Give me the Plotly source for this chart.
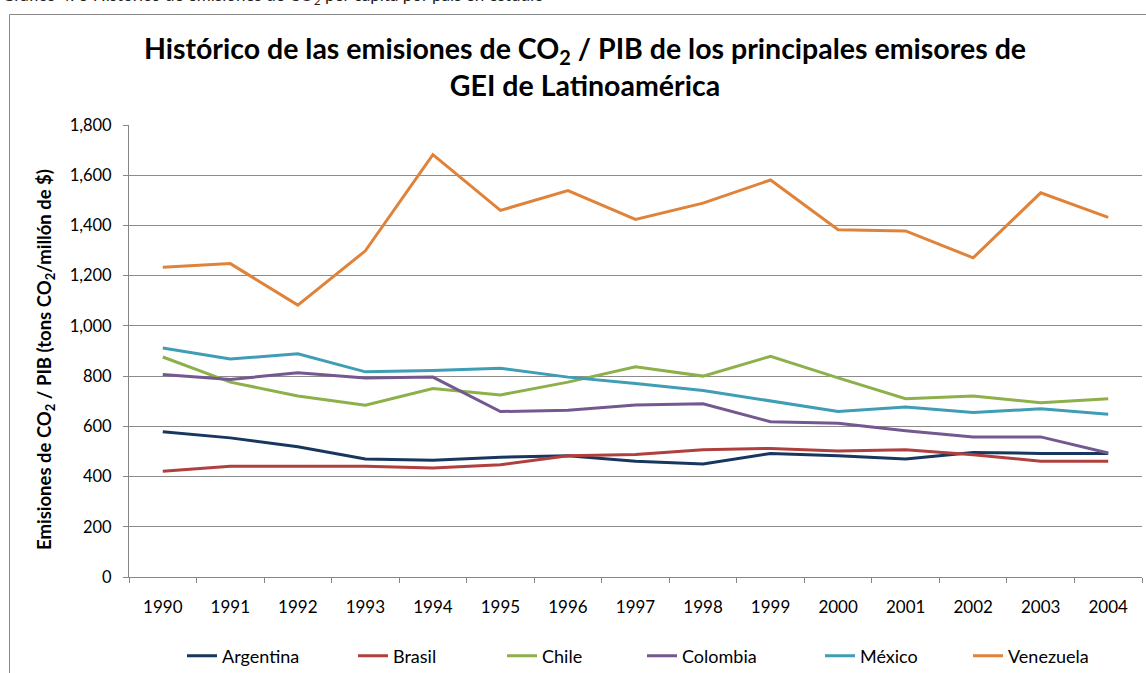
import plotly.graph_objects as go

years = [str(y) for y in range(1990, 2005)]

argentina = [578, 554, 519, 470, 465, 477, 483, 461, 450, 492, 483, 470, 496, 492, 492]
brasil = [421, 441, 441, 441, 434, 447, 483, 488, 507, 512, 502, 507, 487, 461, 461]
chile = [876, 776, 721, 684, 751, 725, 776, 837, 800, 879, 793, 710, 721, 694, 710]
colombia = [806, 787, 813, 792, 796, 659, 664, 685, 690, 618, 612, 582, 558, 558, 494]
mexico = [912, 868, 889, 817, 822, 831, 796, 771, 743, 701, 659, 677, 655, 670, 648]
venezuela = [1234, 1248, 1083, 1299, 1682, 1460, 1539, 1424, 1489, 1581, 1383, 1378, 1271, 1530, 1432]

series = [
    ("Argentina", argentina, "#17375E"),
    ("Brasil", brasil, "#B0403D"),
    ("Chile", chile, "#8DB04B"),
    ("Colombia", colombia, "#73598F"),
    ("México", mexico, "#3F9DB5"),
    ("Venezuela", venezuela, "#E0833A"),
]

# pixel geometry of the plot area (1146x673 page)
L, R, T, B = 129, 4, 125, 96
W = 1146 - L - R
H = 673 - T - B

def px_x(p):
    return (p - L) / W

def px_y(p):
    return (673 - B - p) / H

legend_starts = [186, 357, 506, 646, 824, 972]

fig = go.Figure()
for i, (name, vals, color) in enumerate(series):
    key = "legend" if i == 0 else f"legend{i + 1}"
    fig.add_trace(go.Scatter(
        x=years, y=vals, mode="lines", name=name,
        line=dict(color=color, width=3),
        legend=key,
    ))

legends = {}
for i, start in enumerate(legend_starts):
    key = "legend" if i == 0 else f"legend{i + 1}"
    legends[key] = dict(
        x=px_x(start - 4), xanchor="left",
        y=px_y(656), yanchor="middle",
        orientation="h", bgcolor="rgba(0,0,0,0)",
        font=dict(size=18, color="#000"),
    )

# outer chart frame
fig.add_shape(type="rect", xref="paper", yref="paper",
              x0=px_x(9.5), x1=px_x(1160), y0=px_y(700), y1=px_y(14.5),
              line=dict(color="#888888", width=1), layer="below")

# clipped caption above the chart frame
fig.add_annotation(
    text="Gráfico 4. 3 Histórico de emisiones de CO<sub>2</sub> per cápita por país en estudio",
    xref="paper", yref="paper", x=px_x(0), y=px_y(-3.8),
    xanchor="left", yanchor="middle", showarrow=False,
    font=dict(size=17, color="#222"),
)

# y axis title, placed like the original (slightly below the plot centre)
fig.add_annotation(
    text="<b>Emisiones de CO<sub>2</sub> / PIB (tons CO<sub>2</sub>/millón de $)</b>",
    xref="paper", yref="paper", x=px_x(45), y=px_y(360),
    xanchor="center", yanchor="middle", textangle=-90, showarrow=False,
    font=dict(size=18.5, color="#000"),
)

fig.update_layout(
    width=1146, height=673,
    margin=dict(l=L, r=R, t=T, b=B, autoexpand=False),
    paper_bgcolor="white", plot_bgcolor="white",
    font=dict(family="Lato, Carlito, sans-serif", color="#000"),
    title=dict(
        text="<b>Histórico de las emisiones de CO<sub>2</sub> / PIB de los principales emisores de<br>GEI de Latinoamérica</b>",
        xref="paper", x=px_x(585), xanchor="center", y=1 - 59 / 673, yanchor="middle",
        font=dict(size=28.5, color="#000"),
    ),
    showlegend=True,
    **legends,
)

fig.update_xaxes(
    type="category", range=[-0.5, 14.5], tickson="boundaries", ticks="outside", ticklen=5,
    tickcolor="#868686", showline=True, linecolor="#868686", linewidth=1,
    showgrid=False, tickfont=dict(size=17), ticklabelstandoff=15,
)
fig.update_yaxes(
    range=[0, 1800], dtick=200, tickformat=",", ticks="outside", ticklen=5,
    tickcolor="#868686", showline=True, linecolor="#868686", linewidth=1,
    showgrid=True, gridcolor="#8c8c8c", gridwidth=1, zeroline=False,
    tickfont=dict(size=16.5), ticklabelstandoff=8,
)

# the page is photographed from its top-left corner, so drop the default body margin
fig.write_html("out.html", config={"displayModeBar": False},
               post_script="document.body.style.margin='0';")
